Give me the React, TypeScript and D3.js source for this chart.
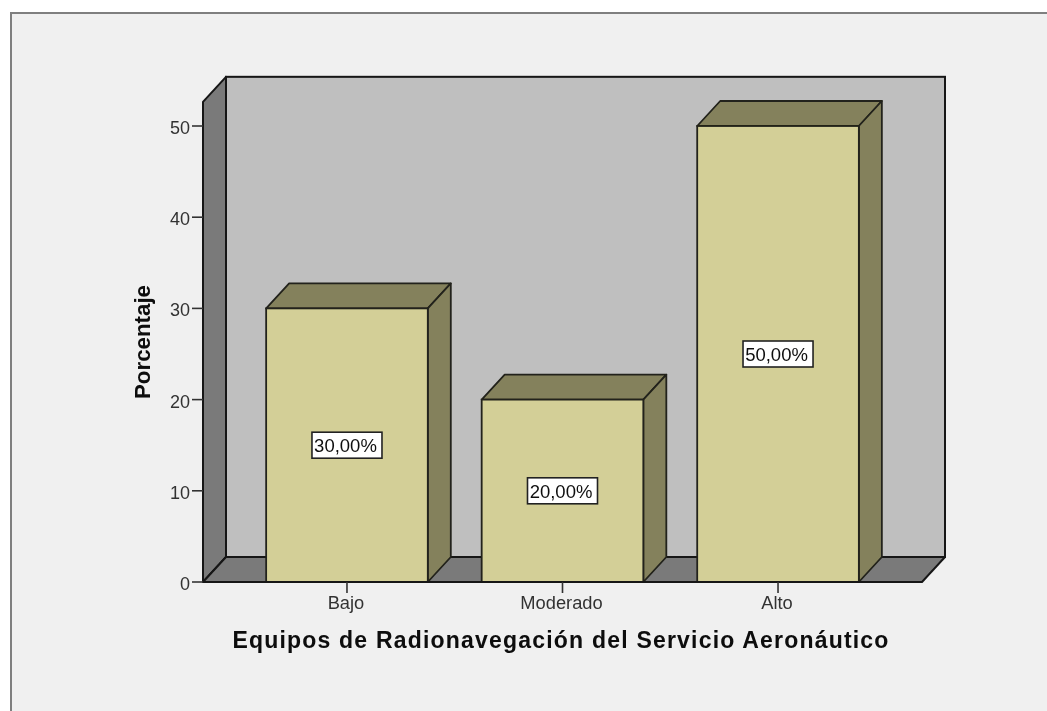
import React from "react";
import * as d3 from "d3";

const categories = ["Bajo", "Moderado", "Alto"];
const values = [30, 20, 50];
const valueLabels = ["30,00%", "20,00%", "50,00%"];
const yTicks = [0, 10, 20, 30, 40, 50];
const xTitle = "Equipos de Radionavegación del Servicio Aeronáutico";
const yTitle = "Porcentaje";

const W = 1047, H = 711;
const left = 203, right = 922, base = 582;
const dx = 23, dy = -25;
const y = d3.scaleLinear().domain([0, 50]).range([base, 126]);
const x = d3.scaleBand<string>().domain(categories).range([left, right]).paddingInner(0.25).paddingOuter(0.293);
const topVal = 52.65;
const line = "#161616";
const barLine = "#22221a";
const pts = (a: number[][]) => a.map((p) => p.join(",")).join(" ");

export default function App() {
  const yTop = y(topVal);
  const bw = x.bandwidth();
  return (
    <svg width={W} height={H} style={{ position: "absolute", left: 0, top: 0, fontFamily: "Liberation Sans, Arial, sans-serif" }}>
      <defs>
        <filter id="soft" filterUnits="userSpaceOnUse" x={0} y={0} width={W} height={H}>
          <feGaussianBlur stdDeviation="0.4" />
        </filter>
      </defs>
      <rect x={0} y={0} width={W} height={H} fill="#fff" />
      <rect x={11} y={13} width={W - 11} height={H - 13} fill="#f0f0f0" />
      <path d={`M11,${H} V13 H${W}`} fill="none" stroke="#7f7f7f" strokeWidth={2} />
      <g filter="url(#soft)">
        {/* back wall */}
        <rect x={left + dx} y={yTop + dy} width={right - left} height={base - yTop} fill="#bfbfbf" stroke={line} strokeWidth={2} />
        {/* left wall */}
        <polygon points={pts([[left, yTop], [left + dx, yTop + dy], [left + dx, base + dy], [left, base]])} fill="#7a7a7a" stroke={line} strokeWidth={2} strokeLinejoin="round" />
        {/* floor */}
        <polygon points={pts([[left, base], [left + dx, base + dy], [right + dx, base + dy], [right, base]])} fill="#7a7a7a" stroke={line} strokeWidth={2} strokeLinejoin="round" />
        {/* bars */}
        {categories.map((c, i) => {
          const x0 = x(c)!;
          const x1 = x0 + bw;
          const yv = y(values[i]);
          return (
            <g key={c}>
              <polygon points={pts([[x0, yv], [x0 + dx, yv + dy], [x1 + dx, yv + dy], [x1, yv]])} fill="#84815c" stroke={barLine} strokeWidth={1.8} strokeLinejoin="round" />
              <polygon points={pts([[x1, yv], [x1 + dx, yv + dy], [x1 + dx, base + dy], [x1, base]])} fill="#84815c" stroke={barLine} strokeWidth={1.8} strokeLinejoin="round" />
              <rect x={x0} y={yv} width={bw} height={base - yv} fill="#d3cf97" stroke={barLine} strokeWidth={1.8} />
            </g>
          );
        })}
        {/* baseline */}
        <line x1={left} x2={right} y1={base} y2={base} stroke={line} strokeWidth={2} />
        {/* value labels */}
        {categories.map((c, i) => {
          const cx = x(c)! + bw / 2;
          const cy = y(values[i] / 2);
          return (
            <g key={c + "-label"}>
              <rect x={cx - 35} y={cy - 13} width={70} height={26} fill="#fff" stroke="#222" strokeWidth={1.6} />
              <text x={cx - 1.5} y={cy + 7} textAnchor="middle" fontSize={18.5} fill="#111">{valueLabels[i]}</text>
            </g>
          );
        })}
        {/* y axis */}
        {yTicks.map((t) => (
          <g key={t}>
            <line x1={left - 11} x2={left} y1={y(t)} y2={y(t)} stroke="#333" strokeWidth={1.6} />
            <text x={left - 13} y={y(t) + 8} textAnchor="end" fontSize={18} fill="#333">{t}</text>
          </g>
        ))}
        {/* x axis */}
        {categories.map((c) => {
          const cx = x(c)! + bw / 2;
          return (
            <g key={c + "-tick"}>
              <line x1={cx} x2={cx} y1={base} y2={base + 11} stroke="#333" strokeWidth={1.6} />
              <text x={cx - 1} y={609} textAnchor="middle" fontSize={18.3} fill="#333">{c}</text>
            </g>
          );
        })}
        <text x={561} y={648} textAnchor="middle" fontSize={23} fontWeight={700} letterSpacing={1.2} fill="#0a0a0a">{xTitle}</text>
        <text transform="translate(150,342) rotate(-90)" textAnchor="middle" fontSize={22.3} fontWeight={700} fill="#0a0a0a">{yTitle}</text>
      </g>
    </svg>
  );
}
